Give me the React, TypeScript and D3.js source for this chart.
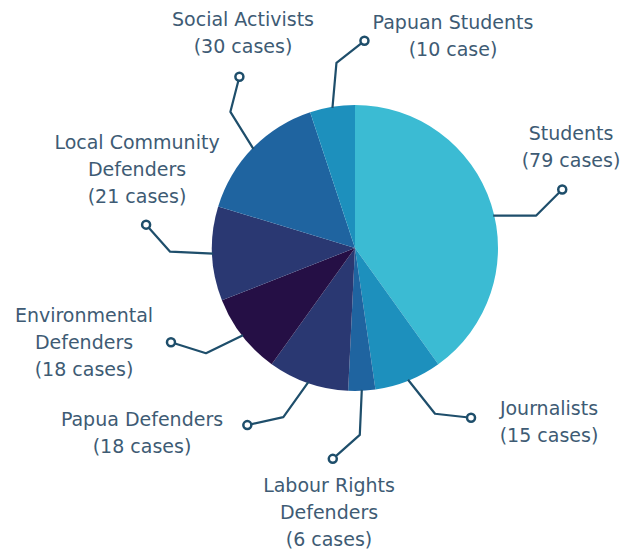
import React from "react";
import * as d3 from "d3";

const categories = [
  "Students",
  "Journalists",
  "Labour Rights Defenders",
  "Papua Defenders",
  "Environmental Defenders",
  "Local Community Defenders",
  "Social Activists",
  "Papuan Students",
];
const cases = [79, 15, 6, 18, 18, 21, 30, 10];
const labelLines = [
  ["Students", "(79 cases)"],
  ["Journalists", "(15 cases)"],
  ["Labour Rights", "Defenders", "(6 cases)"],
  ["Papua Defenders", "(18 cases)"],
  ["Environmental", "Defenders", "(18 cases)"],
  ["Local Community", "Defenders", "(21 cases)"],
  ["Social Activists", "(30 cases)"],
  ["Papuan Students", "(10 case)"],
];

// styles / layout
const colors = ["#3BBBD3", "#1D90BD", "#1F64A0", "#2A3872", "#250F45", "#2A3872", "#1F64A0", "#1D90BD"];
const W = 626, H = 550;
const CX = 355, CY = 248, R = 143;
const LINE_H = 26.8;
// leader: angle tweak (deg), elbow offset, end offset; label center x & first line y
const layout = [
  { da: 4.6, elbow: [43, 0], end: [69, -26], tx: 571, ty: 133 },
  { da: 0, elbow: [27, 34], end: [63, 38], tx: 549, ty: 408 },
  { da: 0, elbow: [-2, 45], end: [-29, 69], tx: 329, ty: 485 },
  { da: 0, elbow: [-25, 35], end: [-61, 43], tx: 142, ty: 419 },
  { da: 0, elbow: [-37, 18], end: [-72, 7], tx: 84, ty: 315 },
  { da: 0, elbow: [-43, -2], end: [-67, -29], tx: 137, ty: 142 },
  { da: 0, elbow: [-23, -37], end: [-14, -72], tx: 243, ty: 19 },
  { da: 0, elbow: [4, -45], end: [32, -67], tx: 453, ty: 22 },
];

export default function App() {
  const pie = d3.pie<number>().sort(null).value((d) => d)(cases);
  const arc = d3.arc<d3.PieArcDatum<number>>().innerRadius(0).outerRadius(R);
  return (
    <svg width={W} height={H} style={{ position: "absolute", left: 0, top: 0, background: "#fff" }}
      fontFamily="'DejaVu Sans', sans-serif">
      <g transform={`translate(${CX},${CY})`}>
        {pie.map((p, i) => (
          <path key={categories[i]} d={arc(p) || ""} fill={colors[i]} />
        ))}
      </g>
      {pie.map((p, i) => {
        const L = layout[i];
        const a = (p.startAngle + p.endAngle) / 2 + (L.da * Math.PI) / 180;
        const sx = CX + (R - 1) * Math.sin(a);
        const sy = CY - (R - 1) * Math.cos(a);
        const ex = sx + L.end[0], ey = sy + L.end[1];
        return (
          <g key={"l" + i}>
            <polyline
              points={`${sx},${sy} ${sx + L.elbow[0]},${sy + L.elbow[1]} ${ex},${ey}`}
              fill="none" stroke="#1E4E6B" strokeWidth={2.2} strokeLinejoin="round" />
            <circle cx={ex} cy={ey} r={4} fill="#fff" stroke="#1E4E6B" strokeWidth={2.5} />
          </g>
        );
      })}
      {labelLines.map((lines, i) => (
        <text key={"t" + i} x={layout[i].tx} y={layout[i].ty} textAnchor="middle"
          fill="#3E5B74" fontSize={19}>
          {lines.map((ln, j) => (
            <tspan key={j} x={layout[i].tx} y={layout[i].ty + j * LINE_H} dominantBaseline="central">{ln}</tspan>
          ))}
        </text>
      ))}
    </svg>
  );
}
